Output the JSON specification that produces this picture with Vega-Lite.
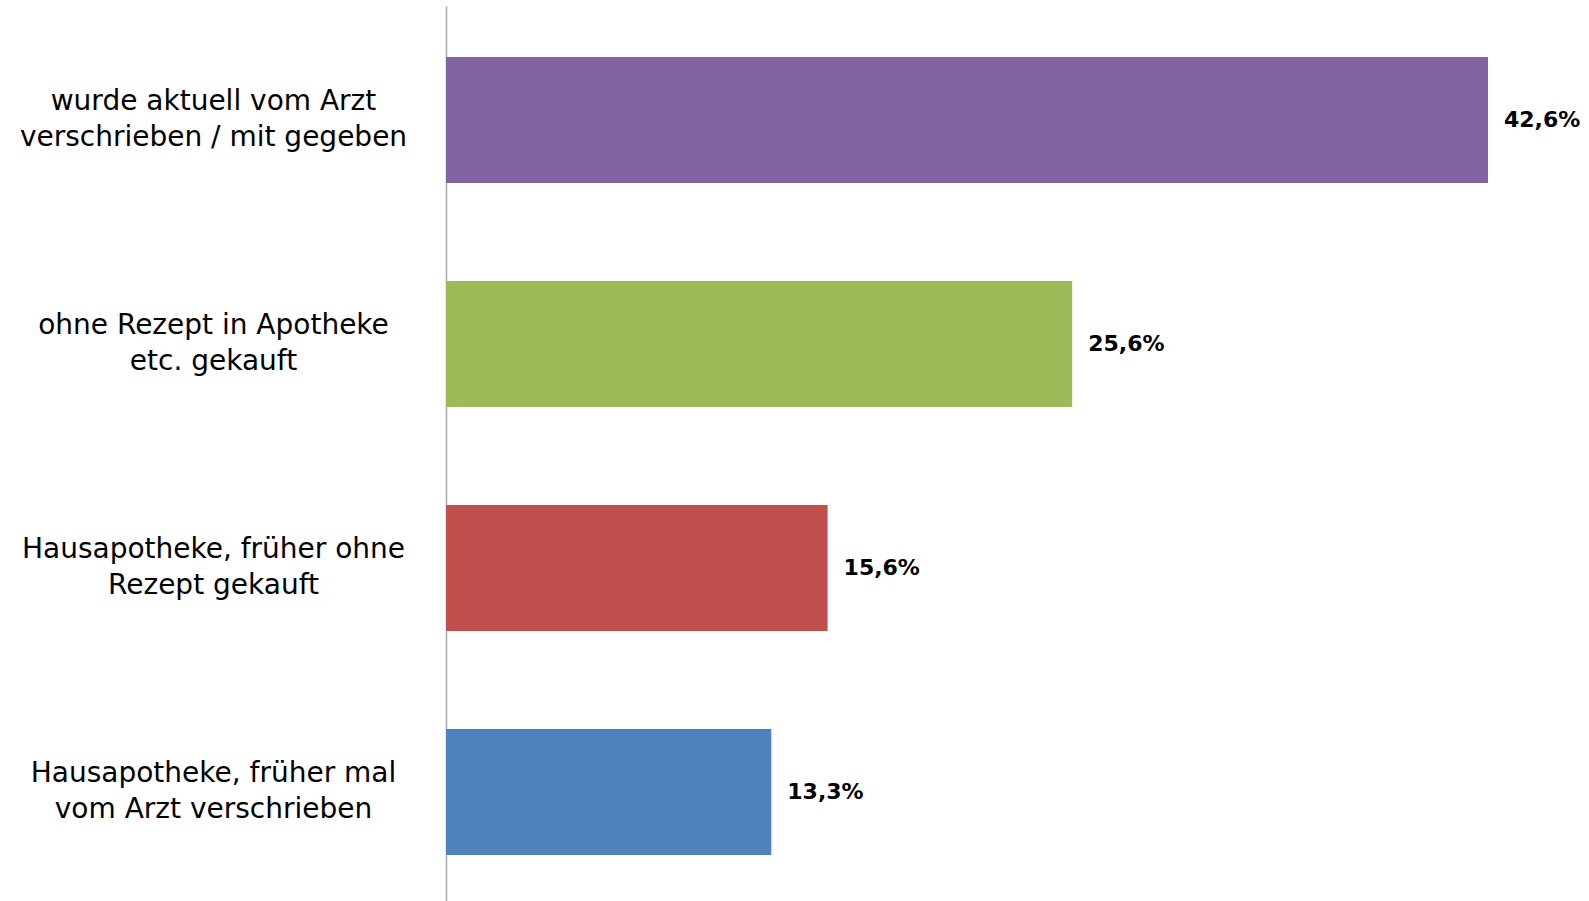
{
  "$schema": "https://vega.github.io/schema/vega-lite/v6.json",
  "width": 1143,
  "height": 895,
  "autosize": {"type": "none"},
  "padding": {"left": 446, "top": 6, "right": 0, "bottom": 0},
  "background": "white",
  "config": {"view": {"stroke": null}},
  "data": {
    "values": [
      {"kategorie": "wurde aktuell vom Arzt verschrieben / mit gegeben", "wert": 42.6},
      {"kategorie": "ohne Rezept in Apotheke etc. gekauft", "wert": 25.6},
      {"kategorie": "Hausapotheke, früher ohne Rezept gekauft", "wert": 15.6},
      {"kategorie": "Hausapotheke, früher mal vom Arzt verschrieben", "wert": 13.3}
    ]
  },
  "transform": [
    {"calculate": "replace(format(datum.wert, '.1f'), '.', ',') + '%'", "as": "beschriftung"}
  ],
  "encoding": {
    "y": {
      "field": "kategorie",
      "type": "nominal",
      "sort": null,
      "scale": {"paddingInner": 0.4375, "paddingOuter": 0.2165, "align": 0.526},
      "axis": {
        "title": null,
        "domain": true,
        "domainColor": "#A6A6A6",
        "domainWidth": 1.5,
        "ticks": false,
        "grid": false,
        "labelPadding": 233,
        "labelAlign": "center",
        "labelBaseline": "middle",
        "labelOffset": -18,
        "labelFont": "DejaVu Sans",
        "labelFontSize": 28,
        "labelLineHeight": 36,
        "labelColor": "#000000",
        "labelLimit": 0,
        "labelExpr": "datum.label == 'wurde aktuell vom Arzt verschrieben / mit gegeben' ? ['wurde aktuell vom Arzt', 'verschrieben / mit gegeben'] : datum.label == 'ohne Rezept in Apotheke etc. gekauft' ? ['ohne Rezept in Apotheke', 'etc. gekauft'] : datum.label == 'Hausapotheke, früher ohne Rezept gekauft' ? ['Hausapotheke, früher ohne', 'Rezept gekauft'] : ['Hausapotheke, früher mal', 'vom Arzt verschrieben']"
      }
    },
    "x": {
      "field": "wert",
      "type": "quantitative",
      "scale": {"domain": [0, 46.73], "nice": false, "zero": true},
      "axis": null
    }
  },
  "layer": [
    {
      "mark": {"type": "bar"},
      "encoding": {
        "color": {
          "field": "kategorie",
          "type": "nominal",
          "sort": null,
          "scale": {
            "domain": [
              "wurde aktuell vom Arzt verschrieben / mit gegeben",
              "ohne Rezept in Apotheke etc. gekauft",
              "Hausapotheke, früher ohne Rezept gekauft",
              "Hausapotheke, früher mal vom Arzt verschrieben"
            ],
            "range": ["#8064A2", "#9BBB59", "#C0504D", "#4F81BD"]
          },
          "legend": null
        }
      }
    },
    {
      "mark": {
        "type": "text",
        "align": "left",
        "baseline": "middle",
        "dx": 16,
        "font": "DejaVu Sans",
        "fontSize": 22,
        "fontWeight": "bold",
        "color": "#000000"
      },
      "encoding": {
        "text": {"field": "beschriftung", "type": "nominal"}
      }
    }
  ]
}
